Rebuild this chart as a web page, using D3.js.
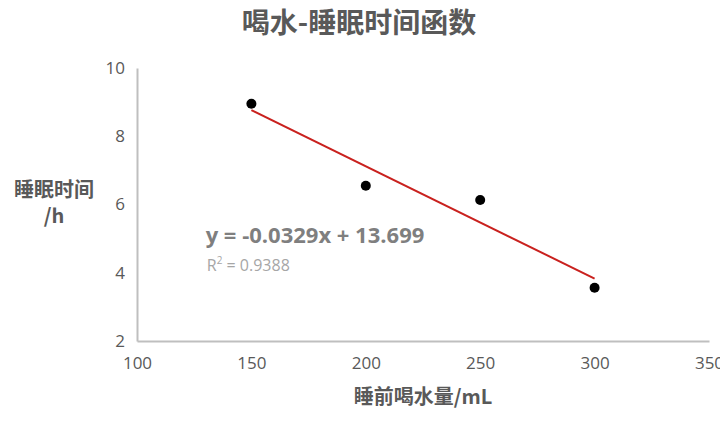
<!DOCTYPE html>
<html>
<head>
<meta charset="utf-8">
<script src="https://cdn.jsdelivr.net/npm/d3@7"></script>
<style>
  html, body { margin: 0; padding: 0; background: #fff; }
  svg { display: block; font-family: "Noto Sans CJK SC", "Open Sans", sans-serif; }
</style>
</head>
<body>
<svg id="chart" width="720" height="425"></svg>
<script>
// water before bed (mL) vs sleep time (h)
const waterMl = [150, 200, 250, 300];
const sleepHours = [8.95, 6.55, 6.13, 3.56];
const trendSlope = -0.0329;
const trendIntercept = 13.699;
const rSquared = 0.9388;
const xTicks = [100, 150, 200, 250, 300, 350];
const yTicks = [2, 4, 6, 8, 10];

const svg = d3.select("#chart");
const margin = { top: 68, right: 11, bottom: 84, left: 137 };
const width = +svg.attr("width");
const height = +svg.attr("height");
const innerWidth = width - margin.left - margin.right;
const innerHeight = height - margin.top - margin.bottom;

const x = d3.scaleLinear().domain([100, 350]).range([0, innerWidth]);
const y = d3.scaleLinear().domain([2, 10]).range([innerHeight, 0]);

const g = svg.append("g")
    .attr("transform", `translate(${margin.left},${margin.top})`);

// X axis
const xAxis = g.append("g")
    .attr("transform", `translate(0,${innerHeight})`)
    .call(d3.axisBottom(x).tickValues(xTicks).tickSize(0).tickPadding(16));
xAxis.select(".domain").attr("stroke", "#bfbfbf").attr("stroke-width", 2);
xAxis.selectAll("text")
    .attr("fill", "#595959")
    .attr("font-size", "17px")
    .attr("font-family", "Open Sans, sans-serif");

// Y axis
const yAxis = g.append("g")
    .call(d3.axisLeft(y).tickValues(yTicks).tickSize(0).tickPadding(12));
yAxis.select(".domain").attr("stroke", "#bfbfbf").attr("stroke-width", 2);
yAxis.selectAll("text")
    .attr("fill", "#595959")
    .attr("font-size", "17px")
    .attr("font-family", "Open Sans, sans-serif");

// trend line over the data range
const trendX = d3.extent(waterMl);
const line = d3.line()
    .x(d => x(d))
    .y(d => y(trendSlope * d + trendIntercept));
g.append("path")
    .datum(trendX)
    .attr("fill", "none")
    .attr("stroke", "#c9211e")
    .attr("stroke-width", 2)
    .attr("d", line);

// points
g.selectAll(".pt")
    .data(waterMl.map((w, i) => ({ w, h: sleepHours[i] })))
    .enter().append("circle")
    .attr("class", "pt")
    .attr("cx", d => x(d.w))
    .attr("cy", d => y(d.h))
    .attr("r", 5)
    .attr("fill", "#000");

// equation
g.append("text")
    .attr("x", x(130))
    .attr("y", y(4.86))
    .attr("fill", "#7f7f7f")
    .attr("font-size", "22px")
    .attr("font-weight", "bold")
    .attr("font-family", "Open Sans, sans-serif")
    .text(`y = ${trendSlope}x + ${trendIntercept}`);

const r2 = g.append("text")
    .attr("x", x(130.5))
    .attr("y", y(4.05))
    .attr("fill", "#a6a6a6")
    .attr("font-size", "16px")
    .attr("font-family", "Open Sans, sans-serif");
r2.append("tspan").text("R");
r2.append("tspan").attr("dy", -7).attr("font-size", "10px").text("2");
r2.append("tspan").attr("dy", 7).text(` = ${rSquared}`);

// title
svg.append("text")
    .attr("x", 359)
    .attr("y", 33)
    .attr("text-anchor", "middle")
    .attr("fill", "#595959")
    .attr("font-size", "28px")
    .attr("font-weight", "bold")
    .text("喝水-睡眠时间函数");

// axis titles
svg.append("text")
    .attr("x", margin.left + innerWidth / 2)
    .attr("y", 404)
    .attr("text-anchor", "middle")
    .attr("fill", "#595959")
    .attr("font-size", "20px")
    .attr("font-weight", "bold")
    .text("睡前喝水量/mL");

svg.append("text")
    .attr("x", 54)
    .attr("y", 197)
    .attr("text-anchor", "middle")
    .attr("fill", "#595959")
    .attr("font-size", "20px")
    .attr("font-weight", "bold")
    .text("睡眠时间");

svg.append("text")
    .attr("x", 54)
    .attr("y", 223)
    .attr("text-anchor", "middle")
    .attr("fill", "#595959")
    .attr("font-size", "20px")
    .attr("font-weight", "bold")
    .text("/h");
</script>
</body>
</html>
